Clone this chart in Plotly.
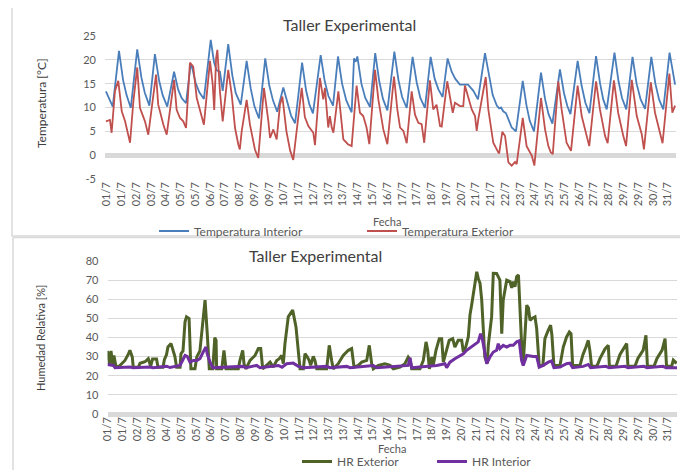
import numpy as np
import plotly.graph_objects as go

# The page body has a default 8px margin, so the figure is sized to fill the
# remaining window and reference pixel positions are shifted by that offset.
WIN_W, WIN_H, BODY = 688, 470, 8
W, H = WIN_W - BODY, WIN_H - BODY

# ---------------- DATA ----------------
tick_labels = ["01/7", "01/7", "02/7", "03/7", "04/7", "05/7", "05/7", "06/7", "07/7", "08/7",
               "09/7", "09/7", "10/7", "11/7", "12/7", "13/7", "13/7", "14/7", "15/7", "16/7",
               "17/7", "17/7", "18/7", "19/7", "20/7", "21/7", "21/7", "22/7", "23/7", "24/7",
               "25/7", "25/7", "26/7", "27/7", "28/7", "29/7", "29/7", "30/7", "31/7"]

# (day since start, °C)
temp_interior = [
    (0.05, 13.4), (0.42, 10.2), (0.76, 21.9), (0.98, 15.8), (1.17, 12.6), (1.40, 9.9),
    (1.75, 22.2), (1.98, 16.2), (2.16, 13.1), (2.41, 10.4), (2.71, 21.2), (2.94, 15.6),
    (3.13, 12.6), (3.38, 10.2), (3.75, 17.5), (3.97, 13.8), (4.16, 12.0), (4.40, 10.9),
    (4.65, 19.1), (4.70, 18.9), (4.92, 15.2), (5.12, 13.2), (5.37, 11.8), (5.74, 24.2),
    (5.92, 19.5), (6.06, 17.8), (6.24, 17.5), (6.39, 13.5), (6.69, 23.3), (6.91, 16.8),
    (7.10, 13.0), (7.37, 10.6), (7.69, 19.8), (7.91, 14.0), (8.11, 10.3), (8.36, 7.7),
    (8.70, 20.3), (8.92, 14.6), (9.12, 11.5), (9.35, 9.1), (9.68, 14.2), (9.90, 10.8),
    (10.10, 8.3), (10.32, 6.7), (10.70, 19.4), (10.92, 13.5), (11.10, 10.6), (11.29, 8.75),
    (11.71, 21.0), (11.93, 15.5), (12.13, 12.4), (12.38, 10.4), (12.65, 20.7), (12.87, 15.0),
    (13.10, 11.5), (13.39, 9.0), (13.52, 20.3), (13.61, 19.6), (13.70, 20.7), (13.92, 15.0),
    (14.13, 12.0), (14.39, 10.1), (14.67, 21.4), (14.89, 15.5), (15.09, 11.8), (15.33, 9.4),
    (15.71, 21.7), (15.93, 15.8), (16.13, 12.2), (16.38, 9.9), (16.70, 20.6), (16.92, 15.3),
    (17.12, 12.0), (17.37, 9.9), (17.68, 20.6), (17.90, 16.0), (18.10, 13.8), (18.33, 12.2),
    (18.60, 20.3), (18.82, 17.5), (19.02, 16.0), (19.27, 14.8), (19.71, 14.8), (20.00, 13.5),
    (20.25, 11.7), (20.63, 21.4), (20.90, 15.6), (21.05, 12.6), (21.27, 10.4), (21.40, 9.8),
    (21.50, 10.0), (21.62, 9.2), (21.77, 8.8), (21.92, 7.2), (22.08, 5.8), (22.31, 5.0),
    (22.68, 15.6), (22.88, 10.5), (23.06, 7.2), (23.29, 5.0), (23.67, 17.3), (23.89, 11.8),
    (24.08, 8.6), (24.29, 6.6), (24.70, 18.0), (24.92, 13.0), (25.10, 10.3), (25.27, 8.6),
    (25.66, 19.8), (25.88, 14.5), (26.08, 11.0), (26.30, 8.8), (26.66, 20.8), (26.88, 15.0),
    (27.05, 11.7), (27.24, 9.6), (27.66, 21.5), (27.88, 15.5), (28.07, 12.0), (28.30, 9.6),
    (28.64, 20.6), (28.86, 15.0), (29.08, 11.7), (29.32, 9.7), (29.66, 20.6), (29.88, 15.0),
    (30.08, 11.7), (30.31, 9.6), (30.65, 21.5), (30.95, 14.8),
]

temp_exterior = [
    (0.05, 7.1), (0.16, 7.2), (0.27, 7.4), (0.36, 4.7), (0.54, 13.4), (0.72, 15.6),
    (0.91, 9.2), (1.09, 7.1), (1.36, 2.6), (1.54, 11.3), (1.75, 18.4), (1.90, 9.9),
    (2.17, 7.1), (2.35, 4.3), (2.77, 16.9), (2.89, 10.6), (3.08, 7.5), (3.17, 6.4),
    (3.35, 4.3), (3.75, 15.8), (3.89, 9.5), (4.07, 7.8), (4.25, 7.1), (4.40, 5.7),
    (4.61, 19.4), (4.79, 18.6), (4.98, 12.0), (5.16, 9.5), (5.37, 6.4), (5.70, 19.8),
    (5.85, 14.8), (5.93, 9.5), (6.03, 20.3), (6.10, 22.1), (6.24, 13.4), (6.39, 7.1),
    (6.69, 17.9), (6.88, 12.7), (7.06, 5.7), (7.24, 2.2), (7.32, 1.2), (7.42, 5.0),
    (7.69, 11.6), (7.87, 6.4), (8.14, 1.2), (8.32, -0.6), (8.63, 14.1), (8.87, 7.1),
    (8.96, 3.6), (9.14, 5.4), (9.32, 3.3), (9.50, 10.6), (9.63, 12.3), (9.85, 5.0),
    (10.05, 1.0), (10.22, -1.0), (10.68, 14.1), (10.85, 8.0), (11.04, 6.1), (11.31, 4.7),
    (11.40, 2.1), (11.67, 16.2), (11.85, 11.7), (11.94, 14.1), (12.12, 5.8), (12.21, 8.2),
    (12.31, 5.8), (12.40, 4.7), (12.67, 13.4), (12.94, 3.3), (13.19, 2.3), (13.39, 1.9),
    (13.66, 14.6), (13.84, 8.9), (14.02, 8.2), (14.20, 5.8), (14.35, 2.3), (14.66, 17.9),
    (14.84, 11.7), (15.11, 5.4), (15.33, 2.3), (15.69, 16.5), (15.87, 9.6), (16.02, 5.8),
    (16.20, 5.1), (16.38, 2.5), (16.65, 13.4), (16.83, 8.5), (17.01, 6.8), (17.19, 6.5),
    (17.33, 2.6), (17.64, 15.7), (17.82, 9.6), (18.00, 10.6), (18.19, 6.1), (18.28, 6.0),
    (18.58, 15.5), (18.88, 8.9), (19.00, 11.0), (19.27, 10.3), (19.45, 10.3), (19.54, 14.6),
    (19.91, 9.6), (20.09, 8.2), (20.18, 5.1), (20.27, 7.6), (20.67, 16.4), (20.81, 9.6),
    (21.08, 2.6), (21.35, 0.6), (21.40, 0.4), (21.57, 4.9), (21.72, 4.0), (21.90, -1.5),
    (22.08, -2.2), (22.26, -1.4), (22.35, -1.9), (22.68, 7.8), (22.89, 1.9), (23.17, -0.1),
    (23.31, -2.2), (23.67, 12.0), (23.89, 5.4), (24.07, 1.9), (24.20, 0.6), (24.31, 0.2),
    (24.61, 15.5), (24.79, 9.6), (25.06, 2.6), (25.30, 0.9), (25.66, 14.6), (25.88, 8.2),
    (26.15, 4.0), (26.29, 1.9), (26.66, 15.5), (26.87, 9.6), (27.15, 4.0), (27.29, 2.5),
    (27.63, 15.7), (27.86, 8.9), (28.14, 4.0), (28.29, 1.9), (28.60, 15.8), (28.87, 8.2),
    (29.14, 4.4), (29.26, 1.2), (29.63, 15.3), (29.86, 8.9), (30.13, 4.7), (30.27, 2.5),
    (30.64, 17.1), (30.80, 8.9), (30.95, 10.4),
]

# (day since start, %)
hr_exterior = [
    (0.00, 33.0), (0.10, 26.3), (0.19, 33.0), (0.28, 26.3), (0.35, 30.6), (0.45, 25.4),
    (0.59, 24.5), (0.77, 26.3), (0.95, 28.0), (1.12, 31.0), (1.22, 33.3), (1.35, 29.8),
    (1.40, 24.5), (1.68, 24.5), (1.77, 26.5), (2.04, 27.3), (2.22, 28.9), (2.35, 25.0),
    (2.45, 28.7), (2.67, 28.7), (2.75, 24.5), (3.02, 24.5), (3.10, 28.5), (3.21, 31.0),
    (3.29, 35.0), (3.46, 36.8), (3.57, 33.3), (3.67, 30.0), (3.76, 24.5), (3.95, 24.5),
    (4.00, 31.5), (4.11, 33.0), (4.22, 48.2), (4.30, 50.8), (4.44, 49.9), (4.49, 33.3),
    (4.54, 23.6), (4.76, 23.6), (4.86, 29.8), (5.03, 33.0), (5.18, 45.5), (5.31, 59.5),
    (5.43, 42.0), (5.54, 23.6), (5.73, 23.6), (5.84, 39.9), (5.91, 38.5), (5.94, 23.6),
    (6.22, 23.6), (6.34, 33.3), (6.45, 23.6), (7.12, 23.6), (7.21, 28.0), (7.36, 33.3),
    (7.43, 26.3), (7.54, 23.6), (7.76, 28.0), (8.03, 30.6), (8.21, 34.2), (8.34, 34.2),
    (8.45, 23.6), (8.67, 25.4), (8.85, 27.1), (9.02, 24.5), (9.21, 28.0), (9.35, 28.9),
    (9.48, 30.6), (9.57, 26.3), (9.66, 36.8), (9.84, 50.8), (10.08, 54.3), (10.26, 45.5),
    (10.39, 33.3), (10.48, 23.6), (10.66, 23.6), (10.75, 31.5), (10.88, 29.8), (10.98, 28.0),
    (11.06, 25.4), (11.20, 30.1), (11.29, 28.0), (11.39, 23.6), (11.93, 23.6), (12.07, 35.9),
    (12.20, 28.0), (12.29, 23.6), (12.56, 26.3), (12.83, 30.6), (13.11, 33.3), (13.29, 34.2),
    (13.42, 24.5), (13.65, 25.4), (13.84, 27.1), (14.11, 28.0), (14.25, 35.9), (14.38, 26.3),
    (14.47, 23.6), (14.74, 25.4), (15.10, 26.3), (15.38, 25.4), (15.56, 23.6), (15.92, 24.5),
    (16.19, 26.3), (16.37, 29.8), (16.47, 28.5), (16.56, 23.6), (17.01, 23.6), (17.19, 28.0),
    (17.34, 37.7), (17.43, 33.3), (17.52, 23.6), (17.65, 29.8), (17.73, 25.4), (17.88, 33.3),
    (18.06, 39.4), (18.19, 39.4), (18.28, 27.1), (18.42, 31.5), (18.60, 38.5), (18.79, 39.4),
    (18.91, 35.0), (19.09, 38.5), (19.28, 38.5), (19.37, 32.4), (19.50, 35.0), (19.64, 40.3),
    (19.73, 51.7), (19.82, 56.9), (19.91, 62.2), (20.00, 66.5), (20.10, 74.4), (20.18, 70.9),
    (20.28, 68.3), (20.37, 59.5), (20.45, 43.8), (20.54, 29.8), (20.67, 26.3), (20.73, 36.1),
    (20.91, 50.9), (21.00, 73.6), (21.18, 73.5), (21.36, 70.0), (21.46, 42.0), (21.54, 59.5),
    (21.73, 70.0), (21.91, 69.2), (22.00, 66.0), (22.09, 69.2), (22.18, 66.5), (22.27, 71.8),
    (22.37, 72.7), (22.45, 54.3), (22.54, 36.8), (22.63, 26.3), (22.82, 56.9), (22.91, 55.5),
    (23.00, 49.0), (23.11, 50.0), (23.27, 50.8), (23.36, 44.8), (23.45, 34.3), (23.50, 25.4),
    (23.70, 25.4), (23.81, 39.4), (23.99, 43.8), (24.12, 46.4), (24.19, 41.3), (24.30, 25.4),
    (24.63, 25.4), (24.81, 35.0), (24.99, 40.3), (25.14, 42.9), (25.23, 42.0), (25.32, 25.4),
    (25.72, 25.4), (25.88, 31.0), (26.05, 35.2), (26.17, 38.5), (26.26, 33.0), (26.35, 25.0),
    (26.64, 25.0), (26.81, 29.1), (27.08, 34.0), (27.26, 35.9), (27.32, 25.0), (27.68, 25.0),
    (27.89, 31.0), (28.11, 34.5), (28.26, 36.8), (28.33, 25.0), (28.71, 25.0), (28.87, 29.1),
    (29.16, 33.4), (29.31, 41.2), (29.39, 25.0), (29.75, 25.0), (29.91, 29.1), (30.19, 33.4),
    (30.35, 39.4), (30.43, 25.0), (30.71, 25.0), (30.80, 28.2), (30.98, 26.5),
]

hr_interior = [
    (0.00, 25.9), (0.32, 25.4), (0.41, 24.2), (1.22, 24.6), (1.39, 24.2), (2.31, 24.6),
    (2.48, 24.2), (3.22, 25.0), (3.40, 24.3), (3.95, 25.4), (4.22, 30.6), (4.34, 30.1),
    (4.49, 27.1), (4.67, 28.0), (4.86, 28.0), (5.03, 28.9), (5.21, 32.4), (5.36, 35.0),
    (5.43, 31.5), (5.58, 27.1), (5.73, 24.2), (7.39, 24.9), (7.54, 24.2), (8.12, 25.4),
    (8.30, 24.2), (9.30, 25.4), (9.50, 24.5), (9.75, 26.3), (10.11, 26.6), (10.39, 24.9),
    (10.66, 24.2), (11.93, 24.9), (12.11, 24.2), (13.02, 24.9), (13.20, 24.2), (14.47, 25.4),
    (14.67, 24.2), (16.37, 25.4), (16.47, 29.4), (16.56, 24.2), (17.92, 25.4), (18.37, 26.3),
    (18.46, 24.2), (18.64, 27.1), (18.91, 28.9), (19.09, 29.8), (19.19, 30.6), (19.37, 31.5),
    (19.55, 33.3), (19.82, 35.0), (20.00, 36.3), (20.18, 37.7), (20.31, 42.0), (20.42, 38.5),
    (20.55, 31.5), (20.64, 26.3), (20.82, 29.8), (21.00, 32.4), (21.18, 33.3), (21.27, 36.8),
    (21.36, 34.2), (21.54, 35.9), (21.73, 35.0), (21.91, 35.9), (22.09, 35.9), (22.27, 37.7),
    (22.41, 38.2), (22.54, 28.0), (22.63, 25.4), (22.82, 30.6), (23.18, 30.1), (23.36, 30.1),
    (23.50, 24.5), (23.72, 25.4), (23.99, 27.1), (24.17, 27.7), (24.30, 24.2), (24.63, 24.5),
    (24.99, 26.3), (25.17, 26.6), (25.32, 24.2), (25.90, 24.9), (26.17, 25.9), (26.30, 24.2),
    (27.13, 24.9), (27.30, 24.2), (28.17, 24.9), (28.33, 24.2), (29.20, 24.9), (29.37, 24.2),
    (30.24, 24.9), (30.40, 24.2), (31.00, 24.2),
]

temp_ticks = [-5, 0, 5, 10, 15, 20, 25]
hr_ticks = [0, 10, 20, 30, 40, 50, 60, 70, 80]

# ---------------- FIGURE ----------------
FONT = "Lato, 'Open Sans', sans-serif"
TXT = "#595959"
GRID = "#d9d9d9"


def px_x(x):
    return (x - BODY) / W


def px_y(y):
    return 1 - (y - BODY) / H


def unzip(pairs):
    return [p[0] for p in pairs], [p[1] for p in pairs]


fig = go.Figure()

for name, data, color, width, xa, ya, lg in [
    ("Temperatura Interior", temp_interior, "#4a7ebb", 1.8, "x", "y", "legend"),
    ("Temperatura Exterior", temp_exterior, "#c0504d", 1.8, "x", "y", "legend"),
    ("HR Exterior", hr_exterior, "#4f6228", 3.0, "x2", "y2", "legend2"),
    ("HR Interior", hr_interior, "#7030a0", 3.0, "x2", "y2", "legend2"),
]:
    xs, ys = unzip(data)
    fig.add_trace(go.Scatter(x=xs, y=ys, mode="lines", name=name,
                             line=dict(color=color, width=width),
                             xaxis=xa, yaxis=ya, legend=lg, hoverinfo="skip"))

common_x = dict(range=[0, 31], showgrid=False, zeroline=False, ticks="",
                tickangle=-90, ticktext=tick_labels, automargin=False,
                tickfont=dict(family=FONT, size=11, color=TXT), tickmode="array")
common_y = dict(showgrid=True, gridcolor=GRID, gridwidth=1, zeroline=True,
                zerolinecolor=GRID, zerolinewidth=5, ticks="", automargin=False,
                tickmode="array",
                tickfont=dict(family=FONT, size=11, color=TXT), ticklabelstandoff=8)

fig.update_layout(
    width=W, height=H,
    margin=dict(l=0, r=0, t=0, b=0, pad=0, autoexpand=False),
    paper_bgcolor="white", plot_bgcolor="white",
    showlegend=True,
    xaxis=dict(common_x, domain=[px_x(105), px_x(676)], anchor="y",
               tickvals=list(np.linspace(0.09, 30.55, len(tick_labels)))),
    yaxis=dict(common_y, domain=[px_y(179), px_y(36)], range=[-5, 25], anchor="x",
               tickvals=temp_ticks, ticktext=[str(v) for v in temp_ticks]),
    xaxis2=dict(common_x, domain=[px_x(107.5), px_x(677)], anchor="y2",
                tickvals=list(np.linspace(0.0, 30.5, len(tick_labels)))),
    yaxis2=dict(common_y, domain=[px_y(414), px_y(261)], range=[0, 80], anchor="x2",
                tickvals=hr_ticks, ticktext=[str(v) for v in hr_ticks]),
    legend=dict(orientation="h", x=px_x(154), y=px_y(231), xanchor="left", yanchor="middle",
                font=dict(family=FONT, size=12, color=TXT), entrywidth=163,
                bgcolor="rgba(0,0,0,0)", itemwidth=30, tracegroupgap=0),
    legend2=dict(orientation="h", x=px_x(297), y=px_y(461.5), xanchor="left", yanchor="middle",
                 font=dict(family=FONT, size=12, color=TXT), entrywidth=90,
                 bgcolor="rgba(0,0,0,0)", itemwidth=30),
)

annotations = [
    dict(text="Taller Experimental", x=px_x(349), y=px_y(24), size=16, color="#404040"),
    dict(text="Taller Experimental", x=px_x(315), y=px_y(255), size=16, color="#404040"),
    dict(text="Fecha", x=px_x(387), y=px_y(221), size=11, color=TXT),
    dict(text="Fecha", x=px_x(392), y=px_y(448.5), size=11, color=TXT),
    dict(text="Temperatura [°C]", x=px_x(42), y=px_y(103), size=12, color="#404040", angle=-90),
    dict(text="Humedad Relativa [%]", x=px_x(40), y=px_y(338), size=11, color="#404040", angle=-90),
]
for a in annotations:
    fig.add_annotation(text=a["text"], x=a["x"], y=a["y"], xref="paper", yref="paper",
                       showarrow=False, xanchor="center", yanchor="middle",
                       textangle=a.get("angle", 0),
                       font=dict(family=FONT, size=a["size"], color=a["color"]))

# chart borders (two stacked chart images)
fig.add_shape(type="rect", xref="paper", yref="paper",
              x0=px_x(12), x1=px_x(683), y0=px_y(236), y1=px_y(5),
              line=dict(color="#d9d9d9", width=1.5), layer="below")
fig.add_shape(type="line", xref="paper", yref="paper",
              x0=px_x(13), x1=px_x(688), y0=px_y(237.5), y1=px_y(237.5),
              line=dict(color="#d9d9d9", width=1.5))
fig.add_shape(type="line", xref="paper", yref="paper",
              x0=px_x(13), x1=px_x(13), y0=px_y(237.5), y1=px_y(470),
              line=dict(color="#d9d9d9", width=1.5))

fig.write_html("out.html")
